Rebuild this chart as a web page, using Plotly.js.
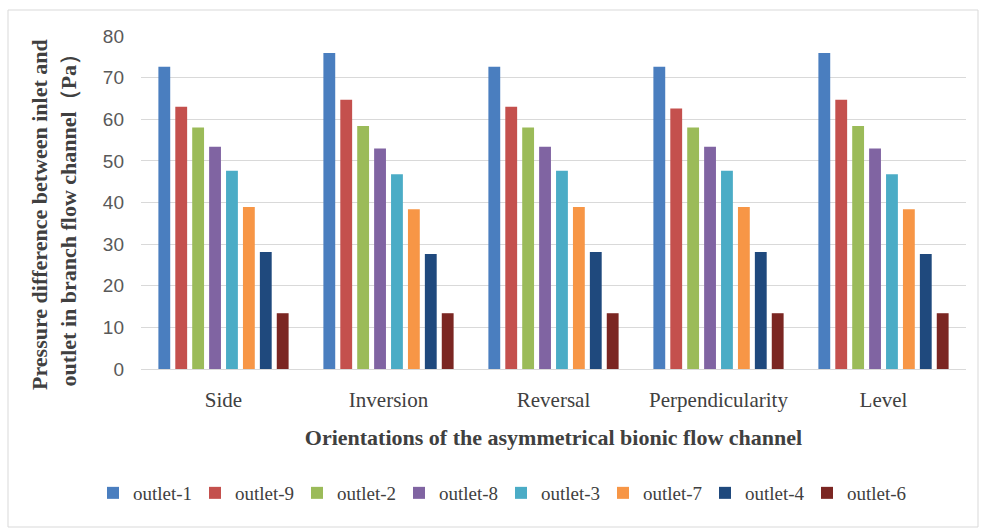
<!DOCTYPE html>
<html>
<head>
<meta charset="utf-8">
<script src="https://cdn.plot.ly/plotly-3.0.1.min.js"></script>
<style>body{margin:0;background:#fff;} #chart{width:982px;height:530px;}</style>
</head>
<body>
<div id="chart"></div>
<script>
const categories = ["Side", "Inversion", "Reversal", "Perpendicularity", "Level"];
const seriesNames = ["outlet-1", "outlet-9", "outlet-2", "outlet-8", "outlet-3", "outlet-7", "outlet-4", "outlet-6"];
const outlet1 = [72.6, 75.9, 72.6, 72.6, 75.9];
const outlet9 = [63.0, 64.7, 63.0, 62.6, 64.7];
const outlet2 = [58.0, 58.4, 58.0, 58.0, 58.4];
const outlet8 = [53.4, 53.0, 53.4, 53.4, 53.0];
const outlet3 = [47.6, 46.8, 47.6, 47.6, 46.8];
const outlet7 = [38.9, 38.4, 38.9, 38.9, 38.4];
const outlet4 = [28.1, 27.6, 28.1, 28.1, 27.6];
const outlet6 = [13.4, 13.4, 13.4, 13.4, 13.4];
const seriesValues = [outlet1, outlet9, outlet2, outlet8, outlet3, outlet7, outlet4, outlet6];
const colors = ["#4A7EBF", "#C4504D", "#9BBB59", "#8064A2", "#4BACC6", "#F79646", "#1F497D", "#7B2622"];

const serif = "Liberation Serif, Times New Roman, serif";
const traces = seriesNames.map((n, i) => ({
  type: "bar", name: n, x: categories, y: seriesValues[i],
  marker: {color: colors[i]}, hoverinfo: "x+y+name"
}));

const L = 141, R = 966, T = 36, B = 369;
const H = B - T, W = R - L;

const layout = {
  width: 982, height: 530,
  margin: {l: L, r: 982 - R, t: T, b: 530 - B, pad: 0, autoexpand: false},
  paper_bgcolor: "#ffffff", plot_bgcolor: "#ffffff",
  barmode: "group", bargap: 0.18, bargroupgap: 0.3,
  showlegend: true,
  legend: {orientation: "h", x: (501 - L) / W, xanchor: "center", y: (B - 493) / H, yanchor: "middle",
    font: {family: serif, size: 19, color: "#404040"}, itemwidth: 30, tracegroupgap: 0,
    entrywidth: 57, entrywidthmode: "pixels"},
  xaxis: {
    automargin: false,
    tickfont: {family: serif, size: 21, color: "#404040"},
    showgrid: false, ticks: "", showline: true, linecolor: "#d9d9d9", linewidth: 1,
    ticklabelstandoff: 12,
    title: {text: "<b>Orientations of the asymmetrical bionic flow channel</b>", font: {family: serif, size: 22, color: "#404040"}, standoff: 18}
  },
  yaxis: {
    automargin: false,
    range: [0, 80], dtick: 10, tick0: 0,
    tickfont: {family: "Liberation Sans, Arial, sans-serif", size: 19, color: "#595959"},
    showgrid: true, gridcolor: "#d9d9d9", gridwidth: 1, zeroline: false,
    ticks: "", showline: false, ticklabelstandoff: 16
  },
  annotations: [{
    text: "<b>Pressure difference between inlet and<br>outlet in branch flow channel（Pa）</b>",
    xref: "paper", yref: "paper", x: (54 - L) / W, y: (B - 215) / H,
    xanchor: "center", yanchor: "middle", textangle: -90, showarrow: false,
    font: {family: serif, size: 22, color: "#404040"}
  }],
  shapes: [{type: "rect", xref: "paper", yref: "paper",
    x0: (8 - L) / W, x1: (978 - L) / W, y0: (B - 527) / H, y1: (B - 10) / H,
    line: {color: "#d9d9d9", width: 1}, fillcolor: "rgba(0,0,0,0)", layer: "below"}]
};

Plotly.newPlot("chart", traces, layout, {displayModeBar: false, staticPlot: true});
</script>
</body>
</html>
